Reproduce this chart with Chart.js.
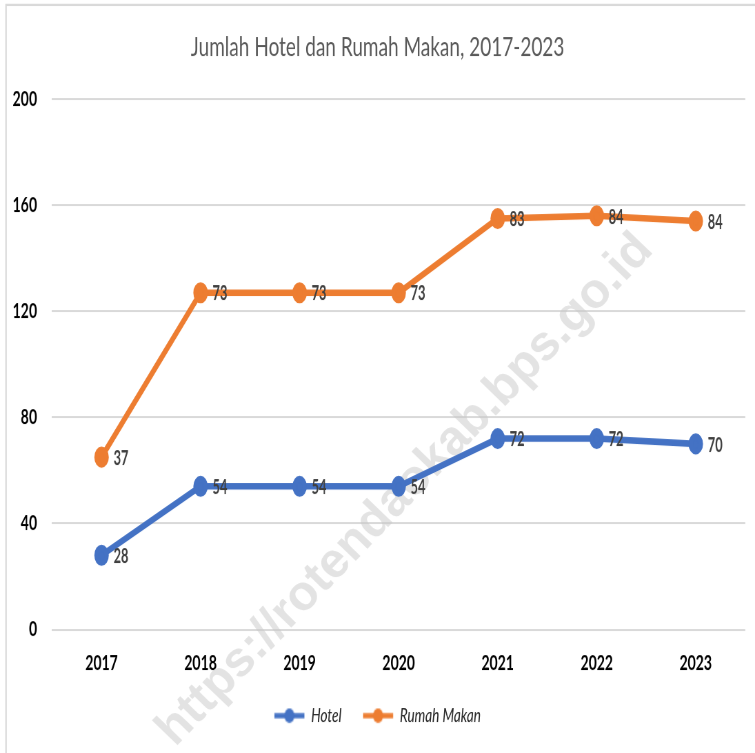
<!DOCTYPE html>
<html>
<head>
<meta charset="utf-8">
<script src="https://cdn.jsdelivr.net/npm/chart.js@4.4.0/dist/chart.umd.min.js"></script>
<style>
  html, body { margin: 0; padding: 0; background: #fff; }
  body { width: 755px; height: 753px; }
  /* the original picture is stretched vertically, so draw flat and stretch */
  #wrap { width: 755px; height: 519px; transform: scaleY(1.4509); transform-origin: 0 0; }
</style>
</head>
<body>
<div id="wrap"><canvas id="hotelChart" width="755" height="519"></canvas></div>
<script>
// data
const years = ["2017", "2018", "2019", "2020", "2021", "2022", "2023"];
const hotel = [28, 54, 54, 54, 72, 72, 70];
const rumahMakan = [37, 73, 73, 73, 83, 84, 84];
const yTicks = [0, 40, 80, 120, 160, 200];

const FONT = "Lato, 'Open Sans', sans-serif";
const BLUE = "#4472C4";
const ORANGE = "#ED7D31";
const STRETCH = 753 / 519;

// legend marker: line with a dot in the middle
function legendMarker(color) {
  const c = document.createElement("canvas");
  c.width = 32;
  c.height = 12;
  const g = c.getContext("2d");
  g.strokeStyle = color;
  g.lineWidth = 3.5;
  g.beginPath();
  g.moveTo(1, 6);
  g.lineTo(31, 6);
  g.stroke();
  g.fillStyle = color;
  g.beginPath();
  g.arc(16, 6, 5, 0, Math.PI * 2);
  g.fill();
  return c;
}

// frame, watermark, value labels
const decor = {
  id: "decor",
  beforeDraw(chart) {
    const ctx = chart.ctx;
    ctx.save();
    ctx.strokeStyle = "#d9d9d9";
    ctx.lineWidth = 1.5;
    ctx.beginPath();
    ctx.moveTo(6, chart.height);
    ctx.lineTo(6, 3.4);
    ctx.lineTo(chart.width, 3.4);
    ctx.stroke();
    ctx.restore();
  },
  beforeDatasetsDraw(chart) {
    // watermark is upright in the final (stretched) picture
    const ctx = chart.ctx;
    const text = "https://rotendaokab.bps.go.id";
    ctx.save();
    ctx.translate(405, 490 / STRETCH);
    ctx.scale(1, 1 / STRETCH);
    ctx.rotate(-46 * Math.PI / 180);
    ctx.font = "bold 44px 'Liberation Sans', Arial, sans-serif";
    const w = ctx.measureText(text).width;
    const size = 44 * 690 / w;
    ctx.font = "bold " + size.toFixed(1) + "px 'Liberation Sans', Arial, sans-serif";
    ctx.fillStyle = "rgba(200,200,200,0.5)";
    ctx.textAlign = "center";
    ctx.textBaseline = "middle";
    ctx.fillText(text, 0, 0);
    ctx.restore();
  },
  afterDatasetsDraw(chart) {
    const ctx = chart.ctx;
    ctx.save();
    ctx.font = "bold 15px " + FONT;
    ctx.fillStyle = "#404040";
    ctx.textAlign = "left";
    ctx.textBaseline = "middle";
    chart.data.datasets.forEach((ds, i) => {
      const meta = chart.getDatasetMeta(i);
      meta.data.forEach((pt, j) => {
        ctx.save();
        ctx.translate(pt.x + 12, pt.y + 0.5);
        ctx.scale(0.85, 1);
        ctx.fillText(String(ds.data[j]), 0, 0);
        ctx.restore();
      });
    });
    ctx.restore();
  }
};

const ctx = document.getElementById("hotelChart").getContext("2d");
new Chart(ctx, {
  type: "line",
  data: {
    labels: years,
    datasets: [
      {
        label: "Hotel",
        data: hotel,
        borderColor: BLUE,
        backgroundColor: BLUE,
        borderWidth: 4.5,
        pointRadius: 5,
        pointHoverRadius: 5,
        fill: false,
        tension: 0
      },
      {
        label: "Rumah Makan",
        data: rumahMakan,
        borderColor: ORANGE,
        backgroundColor: ORANGE,
        borderWidth: 4.5,
        pointRadius: 5,
        pointHoverRadius: 5,
        fill: false,
        tension: 0
      }
    ]
  },
  options: {
    responsive: false,
    animation: false,
    devicePixelRatio: STRETCH,
    layout: { padding: { left: 10, right: 10, top: 0, bottom: 9 } },
    scales: {
      x: {
        offset: true,
        grid: { display: false, drawTicks: false },
        border: { display: false },
        afterFit(scale) { scale.height = 31.1; },
        ticks: {
          color: "#000",
          font: { family: FONT, size: 14, weight: "bold" },
          padding: 15.3
        }
      },
      y: {
        stacked: true,
        min: 0,
        max: 200,
        afterBuildTicks(scale) {
          scale.ticks = yTicks.map(v => ({ value: v }));
        },
        afterFit(scale) { scale.width = 42; },
        grid: { color: "#d9d9d9", lineWidth: 1.4, drawTicks: false },
        border: { display: false },
        ticks: {
          color: "#000",
          font: { family: FONT, size: 14, weight: "bold" },
          padding: 15
        }
      }
    },
    plugins: {
      title: {
        display: true,
        text: "Jumlah Hotel dan Rumah Makan, 2017-2023",
        color: "#595959",
        font: { family: FONT, size: 19, weight: "normal" },
        padding: { top: 21, bottom: 24.5 }
      },
      legend: {
        position: "bottom",
        labels: {
          usePointStyle: true,
          pointStyleWidth: 30,
          color: "#262626",
          font: { family: FONT, size: 13.5, style: "italic" },
          padding: 21.5,
          generateLabels(chart) {
            return chart.data.datasets.map((ds, i) => ({
              text: ds.label,
              pointStyle: legendMarker(ds.borderColor),
              fillStyle: ds.borderColor,
              strokeStyle: ds.borderColor,
              lineWidth: 0,
              fontColor: "#262626",
              hidden: false,
              datasetIndex: i
            }));
          }
        }
      },
      tooltip: { enabled: false }
    }
  },
  plugins: [decor]
});
</script>
</body>
</html>
